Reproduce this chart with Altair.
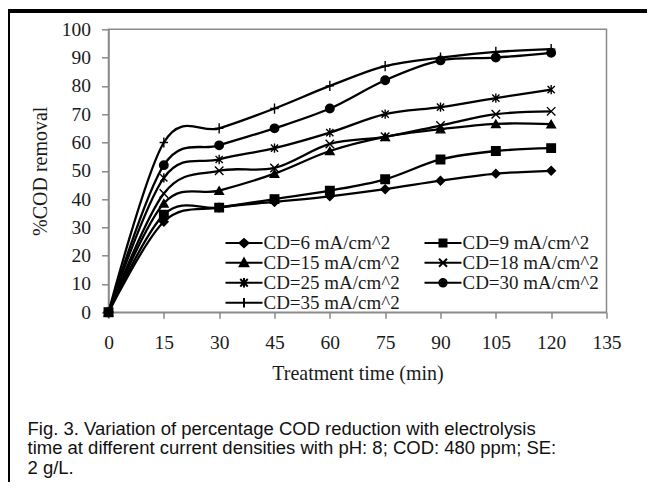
import altair as alt
import pandas as pd

times = [0, 15, 30, 45, 60, 75, 90, 105, 120]
series_names = ["CD=6 mA/cm^2", "CD=9 mA/cm^2", "CD=15 mA/cm^2", "CD=18 mA/cm^2",
                "CD=25 mA/cm^2", "CD=30 mA/cm^2", "CD=35 mA/cm^2"]
cd6 = [0, 32, 37, 39, 41, 43.5, 46.5, 49, 50]
cd9 = [0, 34.5, 37, 40, 43, 47, 54, 57, 58]
cd15 = [0, 38.5, 43, 49, 57, 62, 64.7, 66.6, 66.5]
cd18 = [0, 42, 50, 51, 59.5, 62, 66, 70, 71]
cd25 = [0, 47.5, 54, 58, 63.5, 70, 72.5, 75.7, 78.7]
cd30 = [0, 52, 59, 65, 72, 82, 89, 90, 91.7]
cd35 = [0, 60, 65, 72, 80, 87, 90, 92, 93]
x_ticks = [0, 15, 30, 45, 60, 75, 90, 105, 120, 135]
y_ticks = [0, 10, 20, 30, 40, 50, 60, 70, 80, 90, 100]
caption = ["Fig. 3. Variation of percentage COD reduction with electrolysis",
           "time at different current densities with pH: 8; COD: 480 ppm; SE:",
           "2 g/L."]

all_series = [cd6, cd9, cd15, cd18, cd25, cd30, cd35]
rows = []
for name, vals in zip(series_names, all_series):
    for t, v in zip(times, vals):
        rows.append({"time": t, "removal": v, "series": name})
df = pd.DataFrame(rows)

# marker shapes for the plotted points
marker_shapes = [
    "diamond",
    "square",
    "triangle-up",
    "M-1,-1L1,1M-1,1L1,-1",
    "M-0.85,-0.85L0.85,0.85M-0.85,0.85L0.85,-0.85M0,-1.1L0,1.1",
    "circle",
    "M-1,0L1,0M0,-1.2L0,1.2",
]
# legend shapes: line segment with the marker in the middle (solid markers drawn as
# nested outlines so that a stroked symbol looks filled)
L = "M-3.7,0L3.7,0"
legend_shapes = [
    L + "M-0.9,0L0,-0.8L0.9,0L0,0.8ZM-0.45,0L0,-0.4L0.45,0L0,0.4Z",
    L + "M-0.7,-0.7L0.7,-0.7L0.7,0.7L-0.7,0.7ZM-0.3,-0.3L0.3,-0.3L0.3,0.3L-0.3,0.3Z",
    L + "M-0.85,0.7L0,-0.85L0.85,0.7ZM-0.4,0.45L0,-0.25L0.4,0.45Z",
    L + "M-0.8,-0.8L0.8,0.8M-0.8,0.8L0.8,-0.8",
    L + "M-0.75,-0.75L0.75,0.75M-0.75,0.75L0.75,-0.75M0,-0.95L0,0.95",
    L + "M0.75,0A0.75,0.75 0 1,1 -0.75,0A0.75,0.75 0 1,1 0.75,0Z"
        "M0.35,0A0.35,0.35 0 1,1 -0.35,0A0.35,0.35 0 1,1 0.35,0Z",
    L + "M0,-0.95L0,0.95",
]

W, H = 498, 283
serif = "Liberation Serif"
txt = "#1a1a1a"
grey = "#8a8a8a"

x = alt.X("time:Q",
          scale=alt.Scale(domain=[0, 135], nice=False),
          axis=alt.Axis(values=x_ticks, title="Treatment time (min)", grid=False,
                        labelFlush=False,
                        tickSize=6, labelPadding=15, titlePadding=12))
y = alt.Y("removal:Q",
          scale=alt.Scale(domain=[0, 100], nice=False),
          axis=alt.Axis(values=y_ticks, title="%COD removal", grid=False,
                        labelFlush=False,
                        tickSize=7, labelPadding=11, titlePadding=11))

lines = alt.Chart(df).mark_line(interpolate="cardinal", color="black", strokeWidth=2.3).encode(
    x=x, y=y, detail="series:N")

points = alt.Chart(df).mark_point(filled=True, color="black", stroke="black",
                                  strokeWidth=1.4, size=72, opacity=1).encode(
    x=x, y=y,
    shape=alt.Shape("series:N", scale=alt.Scale(domain=series_names, range=marker_shapes),
                    legend=None))

legend_layer = alt.Chart(df).mark_point(filled=False, color="black",
                                        strokeWidth=2, opacity=0).encode(
    x=x, y=y,
    shape=alt.Shape("series:N", scale=alt.Scale(domain=series_names, range=legend_shapes),
                    legend=alt.Legend(title=None, orient="none", legendX=126, legendY=204,
                                      columns=2, direction="horizontal",
                                      symbolSize=100, symbolStrokeWidth=2,
                                      symbolStrokeColor="black",
                                      symbolOpacity=1, labelOffset=10,
                                      labelFont=serif, labelFontSize=19, labelColor=txt,
                                      rowPadding=-0.3, columnPadding=20)))

frame = alt.Chart(df).mark_rect(fill=None, filled=False, stroke="black", strokeWidth=3).encode(
    x=alt.value(-100), x2=alt.value(W + 60), y=alt.value(-18.3), y2=alt.value(H + 180))

chart = alt.layer(frame, lines, points, legend_layer).resolve_scale(
    shape="independent"
).properties(
    width=W, height=H,
    background="white",
    autosize=alt.AutoSizeParams(type="none"),
    padding={"left": 100.5, "top": 21.3, "right": 40, "bottom": 170},
    title=alt.TitleParams(text=caption, orient="bottom", anchor="start", frame="group",
                          dx=-81, offset=-74, font="Liberation Sans", fontSize=18.5,
                          fontWeight="normal", color="#111111", lineHeight=19.5,
                          baseline="top"),
).configure_view(
    stroke=grey, strokeWidth=1.5
).configure_axis(
    domainColor=grey, domainWidth=1.5, tickColor=grey, tickWidth=1.5,
    labelFont=serif, labelFontSize=19.5, labelColor=txt,
    titleFont=serif, titleFontSize=20, titleFontWeight="normal", titleColor=txt,
)

chart.save("out.html", embed_options={"renderer": "svg", "actions": False})
